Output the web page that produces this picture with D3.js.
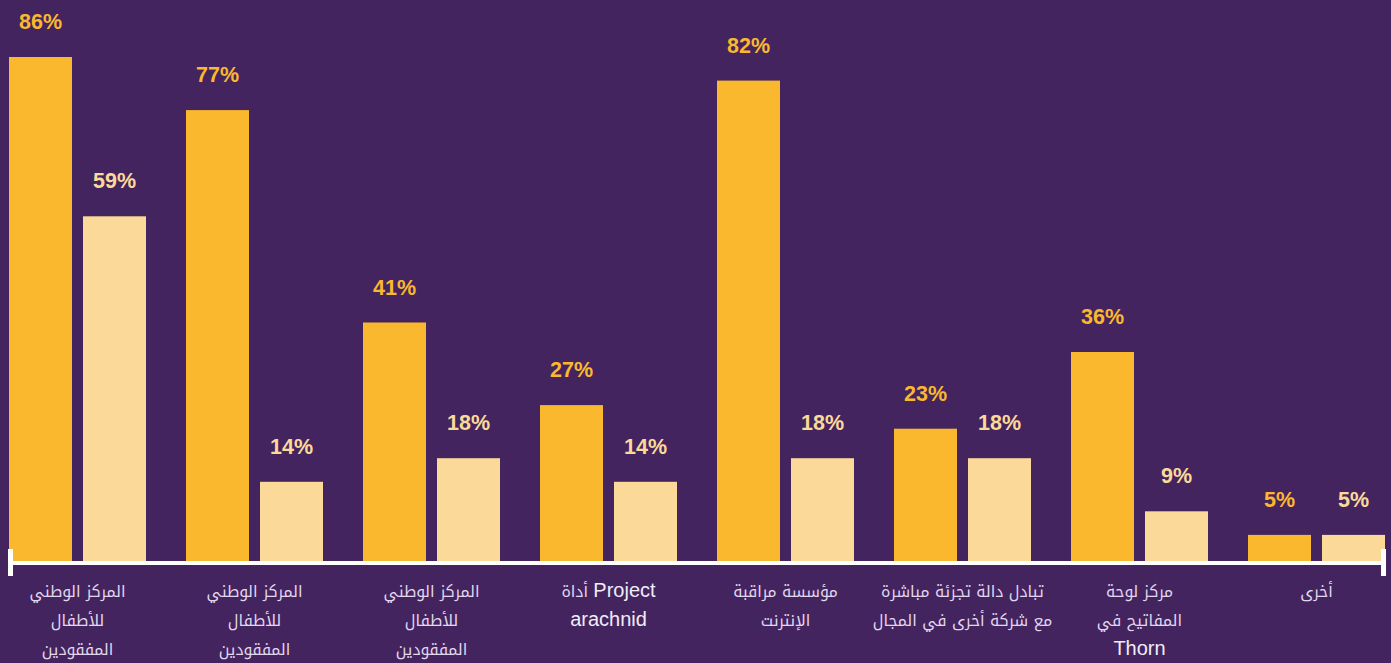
<!DOCTYPE html>
<html>
<head>
<meta charset="utf-8">
<script src="https://cdn.jsdelivr.net/npm/d3@7"></script>
<style>
  html, body { margin: 0; padding: 0; background: #43245f; }
  svg { display: block; }
</style>
</head>
<body>
<svg id="chart" width="1391" height="663"></svg>
<script>
// Category labels, one array of display lines per group
const categories = [
  ["المركز الوطني", "للأطفال", "المفقودين"],
  ["المركز الوطني", "للأطفال", "المفقودين"],
  ["المركز الوطني", "للأطفال", "المفقودين"],
  ["أداة Project", "arachnid"],
  ["مؤسسة مراقبة", "الإنترنت"],
  ["تبادل دالة تجزئة مباشرة", "مع شركة أخرى في المجال"],
  ["مركز لوحة", "المفاتيح في", "Thorn"],
  ["أخرى"]
];
const seriesA = [86, 77, 41, 27, 82, 23, 36, 5];
const seriesB = [59, 14, 18, 14, 18, 18, 9, 5];
const seriesKeys = ["a", "b"];
const seriesColors = ["#fab82e", "#fbd999"];

const W = 1391, H = 663;
const svg = d3.select("#chart");
svg.append("rect").attr("width", W).attr("height", H).attr("fill", "#43245f");

const groups = d3.range(categories.length);
const x0 = d3.scaleBand().domain(groups).range([9, 1385]).paddingInner(40 / 177).paddingOuter(0);
const x1 = d3.scaleBand().domain(seriesKeys).range([0, x0.bandwidth()]).paddingInner(2 - x0.bandwidth() / 74);
const y = d3.scaleLinear().domain([0, 100]).range([564.4, -25.6]);
const axisY = 561;

const data = groups.map(i => ({ i, values: [seriesA[i], seriesB[i]] }));

const g = svg.selectAll("g.group").data(data).join("g")
  .attr("class", "group")
  .attr("transform", d => `translate(${x0(d.i)},0)`);

g.selectAll("rect").data(d => d.values.map((v, k) => ({ v, k })))
  .join("rect")
  .attr("x", d => x1(seriesKeys[d.k]))
  .attr("y", d => y(d.v))
  .attr("width", x1.bandwidth())
  .attr("height", d => axisY - y(d.v))
  .attr("fill", d => seriesColors[d.k]);

g.selectAll("text.val").data(d => d.values.map((v, k) => ({ v, k })))
  .join("text")
  .attr("class", "val")
  .attr("x", d => x1(seriesKeys[d.k]) + x1.bandwidth() / 2)
  .attr("y", d => y(d.v) - 28)
  .attr("text-anchor", "middle")
  .attr("font-family", "'Liberation Sans', Arial, sans-serif")
  .attr("font-weight", "bold")
  .attr("font-size", 21.5)
  .attr("fill", d => seriesColors[d.k])
  .text(d => d.v + "%");

// Baseline with end caps
svg.append("rect").attr("x", 8).attr("y", axisY).attr("width", 1378).attr("height", 4).attr("fill", "#ffffff");
svg.append("rect").attr("x", 8).attr("y", 549).attr("width", 5).attr("height", 27).attr("fill", "#ffffff");
svg.append("rect").attr("x", 1381).attr("y", 549).attr("width", 5).attr("height", 27).attr("fill", "#ffffff");

// Category labels: Arabic runs in a kufi face, Latin runs in a plain sans
const latin = /^[A-Za-z]+$/;
g.each(function (d) {
  const cx = x0.bandwidth() / 2;
  categories[d.i].forEach((line, li) => {
    const t = d3.select(this).append("text")
      .attr("x", cx)
      .attr("y", 596.5 + li * 29)
      .attr("text-anchor", "middle")
      .attr("fill", "#e2d7ee")
      .attr("font-family", "'Noto Kufi Arabic', 'DejaVu Sans', sans-serif")
      .attr("font-size", 15.8);
    line.split(/(\s+)/).forEach(part => {
      const s = t.append("tspan").text(part);
      if (latin.test(part)) {
        s.attr("font-family", "'Liberation Sans', Arial, sans-serif")
          .attr("font-size", 20).attr("fill", "#f1ecf6");
      }
    });
  });
});
</script>
</body>
</html>
